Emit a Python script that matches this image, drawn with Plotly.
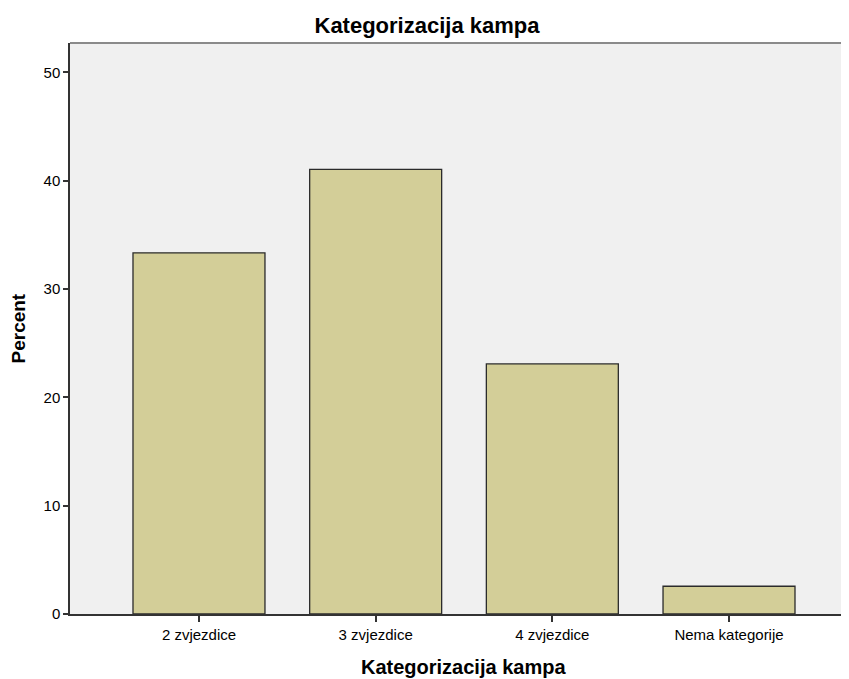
import plotly.graph_objects as go

categories = ["2 zvjezdice", "3 zvjezdice", "4 zvjezdice", "Nema kategorije"]
percent = [33.33, 41.03, 23.08, 2.56]
y_ticks = [0, 10, 20, 30, 40, 50]

# page body has an 8px default margin; figure is sized/positioned to compensate
OFF = 8
W, H = 849 - OFF, 679 - OFF
L, R, T = 70 - OFF, 0, 43 - OFF
B = H - (614 - OFF)
PW, PH = W - L - R, H - T - B
SP = 176.7  # px per category
x_left = -(199 - 70) / SP
x_right = 3 + (849 - 729) / SP

fig = go.Figure()
fig.add_trace(go.Bar(
    x=list(range(len(categories))),
    y=percent,
    marker=dict(color="#D3CE98", line=dict(color="#2b2b2b", width=1.3)),
    width=0.747,
    hoverinfo="skip",
))

fig.update_layout(
    width=W, height=H,
    margin=dict(l=L, r=R, t=T, b=B),
    paper_bgcolor="white",
    plot_bgcolor="#F0F0F0",
    showlegend=False,
    font=dict(family="Liberation Sans, Arial, sans-serif", color="#000000"),
    title=dict(text="<b>Kategorizacija kampa</b>", x=(427 - OFF) / W, xanchor="center",
               y=1 - (25 - OFF) / H, yanchor="middle", yref="container",
               font=dict(size=22, color="#000000")),
    xaxis=dict(
        range=[x_left, x_right],
        tickmode="array",
        tickvals=list(range(len(categories))),
        ticktext=categories,
        ticks="outside", ticklen=6, tickcolor="#333333", tickwidth=1.5,
        showline=True, linecolor="#333333", linewidth=1.5,
        showgrid=False, zeroline=False,
        tickfont=dict(size=15, color="#000000"),
    ),
    yaxis=dict(
        range=[0, 52.7],
        tickmode="array",
        tickvals=y_ticks,
        ticktext=[str(v) for v in y_ticks],
        ticks="outside", ticklen=5, tickcolor="#333333", tickwidth=1.5,
        showline=True, linecolor="#333333", linewidth=1.5,
        showgrid=False, zeroline=False,
        tickfont=dict(size=15, color="#000000"),
    ),
    shapes=[dict(type="line", xref="paper", yref="paper", x0=0, x1=1, y0=1, y1=1,
                 line=dict(color="#8a8a8a", width=2))],
    annotations=[
        dict(text="<b>Kategorizacija kampa</b>", xref="paper", yref="paper",
             x=(464 - 70) / PW, y=-(667 - 614) / PH,
             xanchor="center", yanchor="middle", showarrow=False,
             font=dict(size=20, color="#000000")),
        dict(text="<b>Percent</b>", xref="paper", yref="paper",
             x=-(70 - 18) / PW, y=0.5, textangle=-90,
             xanchor="center", yanchor="middle", showarrow=False,
             font=dict(size=19, color="#000000")),
    ],
)

fig.write_html("out.html")
